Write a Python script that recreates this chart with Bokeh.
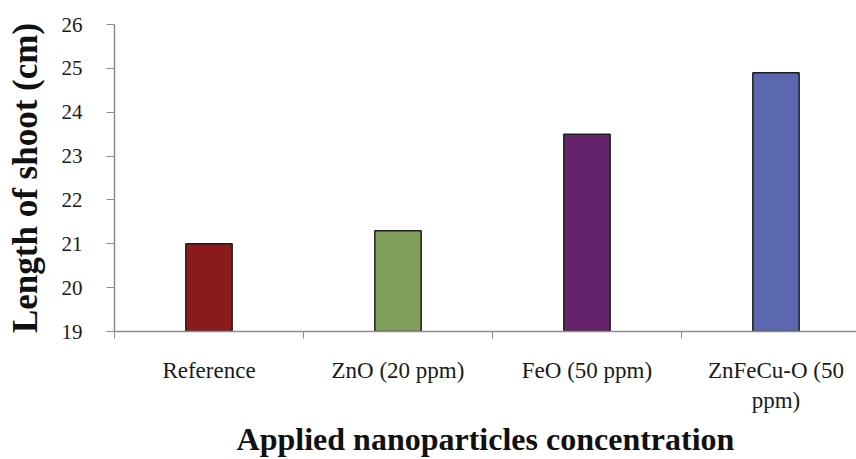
from bokeh.plotting import figure
from bokeh.models import FixedTicker, Range1d
from bokeh.embed import file_html
from bokeh.resources import INLINE

categories = ["Reference", "ZnO (20 ppm)", "FeO (50 ppm)", "ZnFeCu-O (50\nppm)"]
values = [21.0, 21.3, 23.5, 24.9]
colors = ["#8b1a1a", "#7f9f5a", "#63226a", "#5b67ae"]
y_ticks = [19, 20, 21, 22, 23, 24, 25, 26]

positions = [i + 0.5 for i in range(len(categories))]
boundaries = [i for i in range(len(categories) + 1)]

SERIF = "Liberation Serif"
AXIS_GRAY = "#8c8c8c"

p = figure(width=856, height=459, output_backend="svg", toolbar_location=None,
           x_range=Range1d(0, 3.926), y_range=Range1d(19, 26),
           min_border_left=114, min_border_right=0, min_border_top=24,
           min_border_bottom=127, background_fill_color="white",
           border_fill_color="white")
p.outline_line_color = None
p.grid.grid_line_color = None

p.vbar(x=positions, top=values, bottom=y_ticks[0], width=0.245,
       fill_color=colors, line_color="#1e1e1e", line_width=1.5)

# x axis
xa = p.xaxis[0]
xa.ticker = FixedTicker(ticks=positions, minor_ticks=boundaries)
xa.major_label_overrides = {pos: lab for pos, lab in zip(positions, categories)}
xa.major_tick_out = 0
xa.major_tick_in = 0
xa.minor_tick_out = 7
xa.minor_tick_in = 0
xa.minor_tick_line_color = AXIS_GRAY
xa.axis_line_color = AXIS_GRAY
xa.axis_line_width = 1.5
xa.major_label_text_font = SERIF
xa.major_label_text_font_size = "23px"
xa.major_label_text_color = "#1a1a1a"
xa.major_label_standoff = 19
xa.axis_label = "Applied nanoparticles concentration"
xa.axis_label_text_font = SERIF
xa.axis_label_text_font_style = "bold"
xa.axis_label_text_font_size = "32px"
xa.axis_label_text_color = "#111111"
xa.axis_label_standoff = 5

# y axis
ya = p.yaxis[0]
ya.ticker = FixedTicker(ticks=y_ticks)
ya.major_tick_out = 8
ya.major_tick_in = 0
ya.minor_tick_line_color = None
ya.major_tick_line_color = AXIS_GRAY
ya.axis_line_color = AXIS_GRAY
ya.axis_line_width = 1.5
ya.major_label_text_font = SERIF
ya.major_label_text_font_size = "21px"
ya.major_label_text_color = "#1a1a1a"
ya.major_label_standoff = 24
ya.axis_label = "Length of shoot (cm)"
ya.axis_label_text_font = SERIF
ya.axis_label_text_font_style = "bold"
ya.axis_label_text_font_size = "35px"
ya.axis_label_text_color = "#111111"
ya.axis_label_standoff = 14

open("out.html", "w").write(file_html(p, INLINE))
